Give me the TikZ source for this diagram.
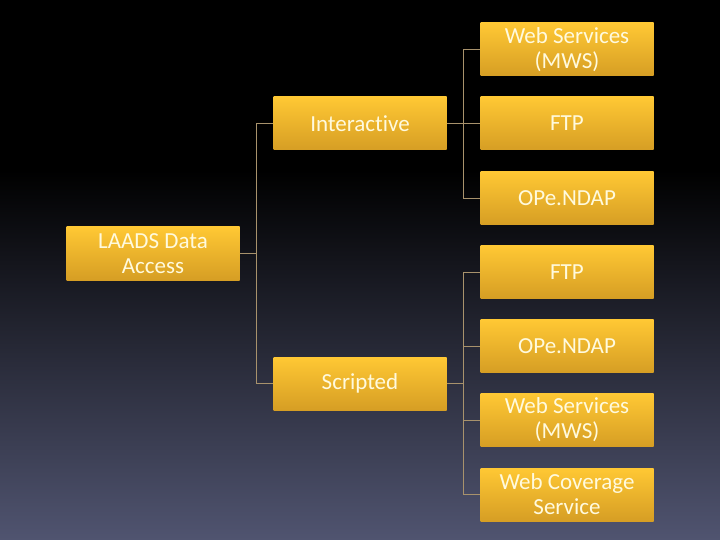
\documentclass[tikz,border=0pt]{standalone}
\usepackage{fontspec}
\setmainfont{Carlito}[Ligatures=NoCommon]
\begin{document}
\begin{tikzpicture}[x=1pt,y=-1pt,
  box/.style={rectangle, minimum width=173pt, minimum height=53pt, inner sep=0pt,
    top color=boxtop, bottom color=boxbot, text=boxtext, align=center,
    font=\fontsize{23}{25}\selectfont},
  conn/.style={draw=linec, line width=0.9pt}]
\definecolor{boxtop}{RGB}{255,200,52}
\definecolor{boxbot}{RGB}{214,158,36}
\definecolor{boxtext}{RGB}{255,250,222}
\definecolor{linec}{RGB}{168,146,108}
\definecolor{bgbot}{RGB}{80,84,112}
\useasboundingbox (0,0) rectangle (720,540);
\fill[black] (0,0) rectangle (720,171);
\shade[top color=black, bottom color=bgbot] (0,170) rectangle (720,540);

\node[box] (laads) at (153,253.5) {LAADS Data\\Access};
\node[box] (inter) at (360,123.5) {Interactive};
\node[box] (scr) at (360,383.5) {Scripted};
\node[box] (ws1) at (567,49.5) {Web Services\\(MWS)};
\node[box] (ftp1) at (567,123.5) {FTP};
\node[box] (op1) at (567,198) {OPe.NDAP};
\node[box] (ftp2) at (567,272) {FTP};
\node[box] (op2) at (567,346) {OPe.NDAP};
\node[box] (ws2) at (567,420) {Web Services\\(MWS)};
\node[box] (wcs) at (567,494.5) {Web Coverage\\Service};

\draw[conn] (laads.east) -- ++(17,0) coordinate (j1);
\draw[conn] (j1) |- (inter.west);
\draw[conn] (j1) |- (scr.west);

\draw[conn] (inter.east) -- ++(17,0) coordinate (j2);
\draw[conn] (j2) |- (ws1.west);
\draw[conn] (j2) |- (ftp1.west);
\draw[conn] (j2) |- (op1.west);

\draw[conn] (scr.east) -- ++(17,0) coordinate (j3);
\draw[conn] (j3) |- (ftp2.west);
\draw[conn] (j3) |- (op2.west);
\draw[conn] (j3) |- (ws2.west);
\draw[conn] (j3) |- (wcs.west);
\end{tikzpicture}
\end{document}
